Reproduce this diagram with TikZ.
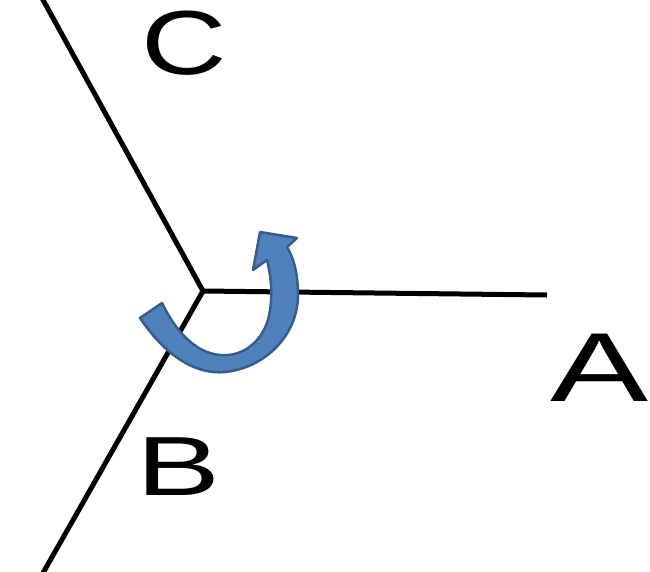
\documentclass[tikz,border=0pt]{standalone}
\usepackage{fontspec}
\setmainfont{Liberation Sans}
\definecolor{arrowfill}{HTML}{4F81BD}
\definecolor{arrowline}{HTML}{385D8A}
\begin{document}
\begin{tikzpicture}[x=1pt,y=-1pt,
  axis/.style={line width=5pt,black},
  lbl/.style={inner sep=0pt,anchor=center}]
\useasboundingbox (0,0) rectangle (650,571);
\coordinate (O) at (203,291);
\coordinate (Aend) at (547,295);
\coordinate (Cend) at (42,-2);
\coordinate (Bend) at (43,573);
\draw[axis] (O) -- (Aend);
\draw[axis] (O) -- (Cend);
\draw[axis] (O) -- (Bend);
\node[lbl] (C) at (184,43) {\fontsize{91}{91}\selectfont\scalebox{1.3}[1]{C}};
\node[lbl] (A) at (600,368) {\fontsize{98}{98}\selectfont\scalebox{1.5}[1]{A}};
\node[lbl] (B) at (179,467) {\fontsize{84}{84}\selectfont\scalebox{1.5}[1]{B}};
\filldraw[fill=arrowfill,draw=arrowline,line width=2.5pt,line join=round]
  (140,318) .. controls (165,355) and (195,375) .. (225,372)
  .. controls (265,368) and (298,335) .. (298,295)
  .. controls (298,270) and (292,255) .. (287,247)
  -- (297,238) -- (260,232) -- (253,270) -- (267,260)
  .. controls (272,280) and (273,300) .. (268,320)
  .. controls (260,345) and (240,357) .. (220,355)
  .. controls (195,353) and (175,330) .. (162,303) -- cycle;
\end{tikzpicture}
\end{document}
